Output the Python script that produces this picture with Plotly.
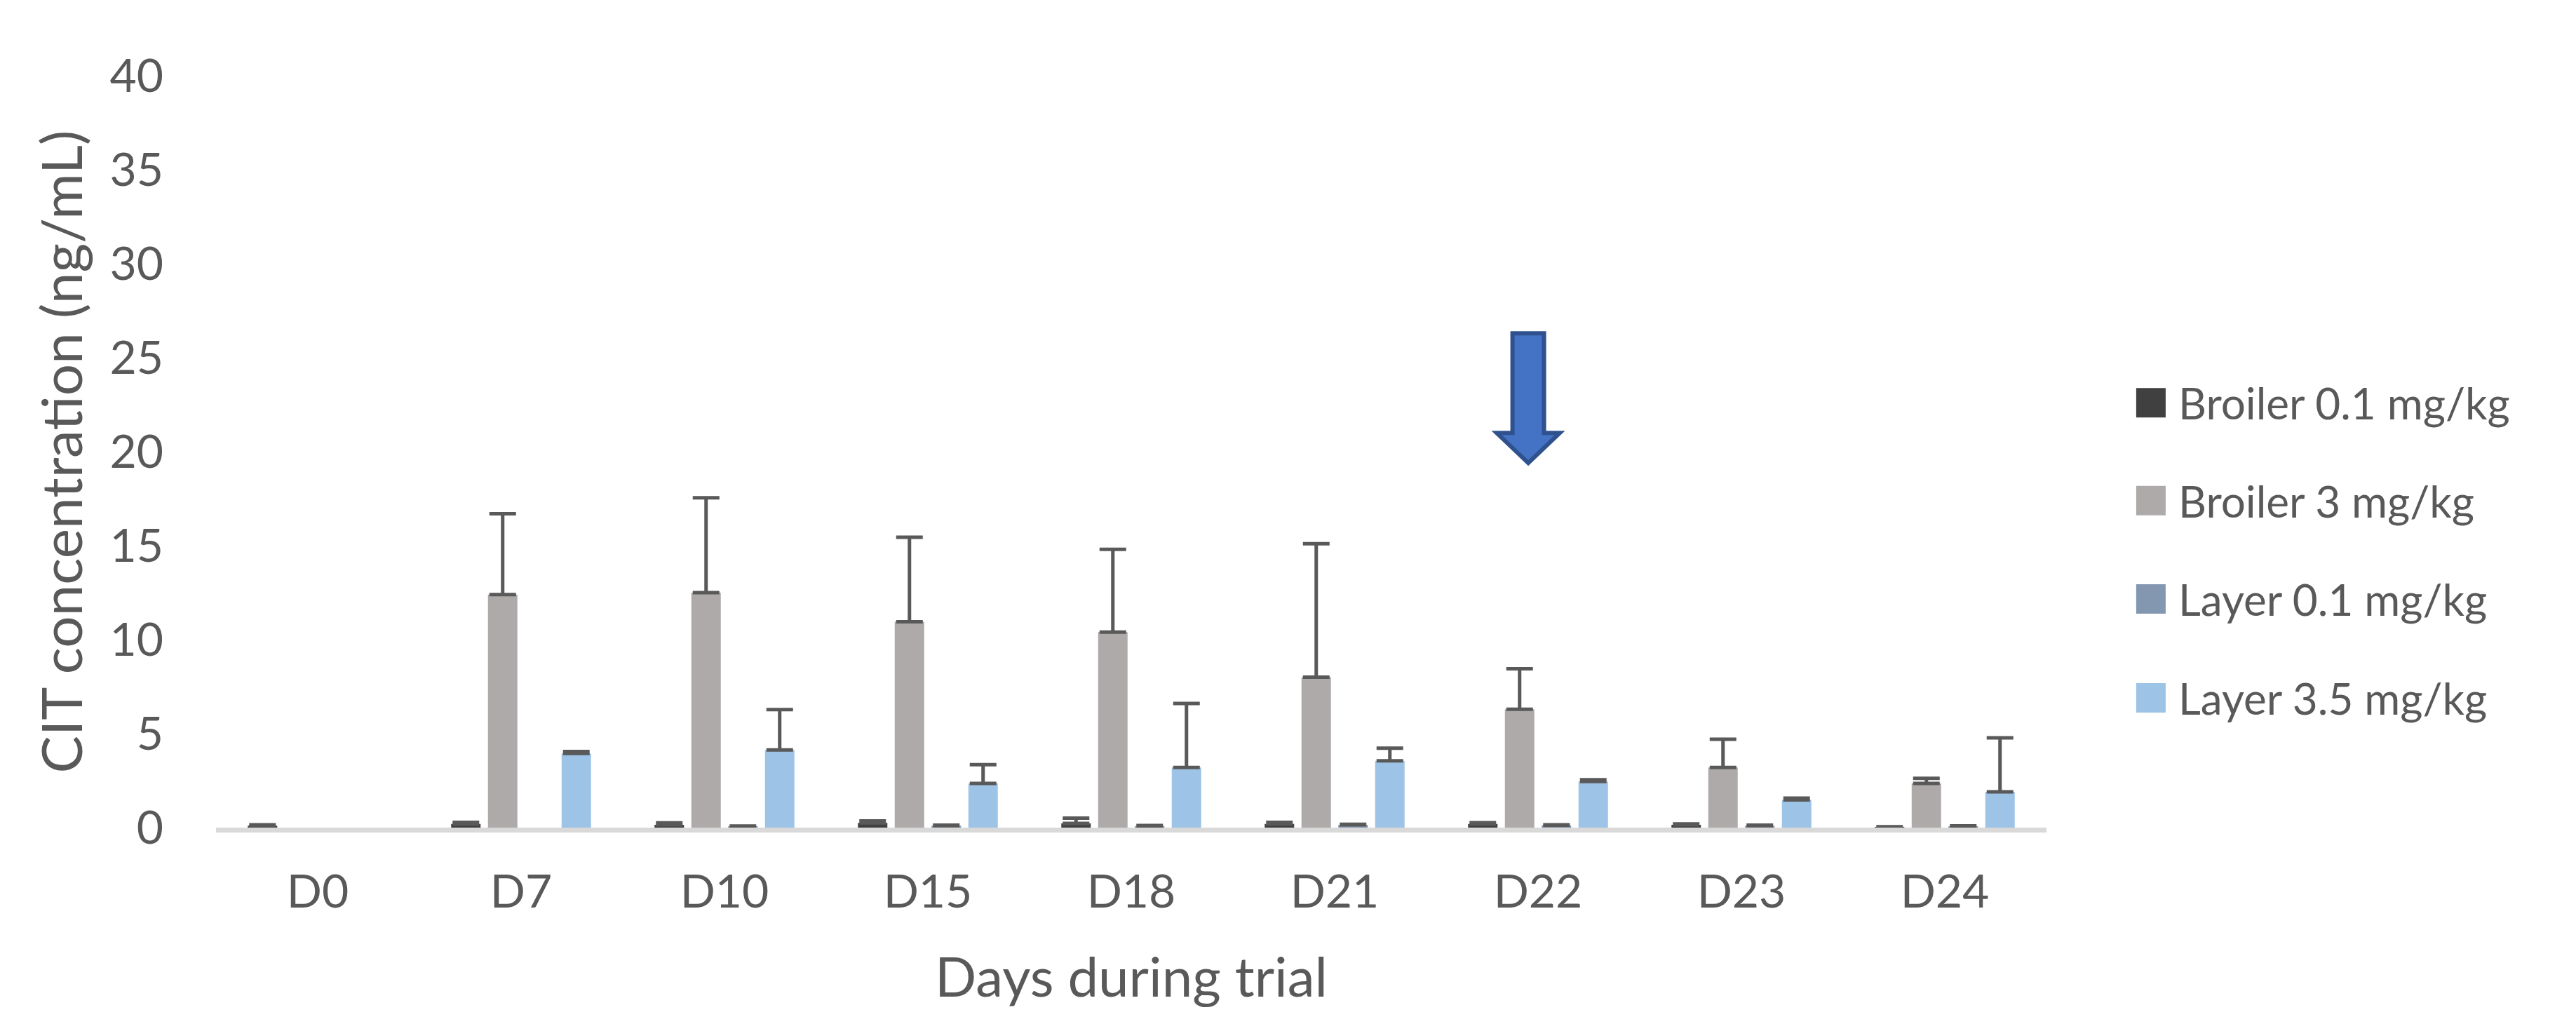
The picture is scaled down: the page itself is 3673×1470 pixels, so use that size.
import plotly.graph_objects as go

# ---- data ----
days = ["D0", "D7", "D10", "D15", "D18", "D21", "D22", "D23", "D24"]
series_names = ["Broiler 0.1 mg/kg", "Broiler 3 mg/kg", "Layer 0.1 mg/kg", "Layer 3.5 mg/kg"]

broiler_01 = [0.10, 0.20, 0.15, 0.25, 0.22, 0.20, 0.20, 0.15, 0.03]
broiler_01_err = [0.05, 0.08, 0.10, 0.10, 0.28, 0.08, 0.06, 0.05, 0.02]

broiler_3 = [None, 12.4, 12.5, 10.95, 10.4, 8.0, 6.3, 3.2, 2.35]
broiler_3_err = [None, 4.3, 5.05, 4.5, 4.4, 7.1, 2.15, 1.5, 0.27]

layer_01 = [None, None, 0.05, 0.10, 0.08, 0.15, 0.12, 0.10, 0.06]
layer_01_err = [None, None, 0.03, 0.03, 0.03, 0.03, 0.03, 0.03, 0.03]

layer_35 = [None, 3.95, 4.13, 2.35, 3.2, 3.55, 2.45, 1.47, 1.9]
layer_35_err = [None, 0.10, 2.15, 1.0, 3.4, 0.68, 0.10, 0.10, 2.88]

y_ticks = [0, 5, 10, 15, 20, 25, 30, 35, 40]

# ---- styles ----
colors = ["#404040", "#AEAAAA", "#8497B0", "#9DC3E6"]
err_color = "#595959"
text_color = "#595959"
FONT = "Lato"

values = [broiler_01, broiler_3, layer_01, layer_35]
errors = [broiler_01_err, broiler_3_err, layer_01_err, layer_35_err]

fig = go.Figure()
for name, vals, errs, col in zip(series_names, values, errors, colors):
    fig.add_trace(go.Bar(
        name=name, x=days, y=vals, marker_color=col, marker_line_width=0,
        error_y=dict(type="data", symmetric=False, array=errs,
                     arrayminus=[0 if e is not None else None for e in errs],
                     color=err_color, thickness=5, width=19),
        showlegend=False,
    ))

# manual legend (large square swatches like the original)
leg_y = [0.565, 0.435, 0.304, 0.1726]
half_h = 0.0196
for name, col, yy in zip(series_names, colors, leg_y):
    fig.add_shape(type="rect", xref="paper", yref="paper",
                  x0=1.0490, x1=1.0651, y0=yy - half_h, y1=yy + half_h,
                  fillcolor=col, line_width=0)
    fig.add_annotation(xref="paper", yref="paper", x=1.0712, y=yy,
                       text=name, showarrow=False, xanchor="left", yanchor="middle",
                       font=dict(family=FONT, size=62, color=text_color))

# block arrow above D22
ax_c = (5.952 + 0.5) / len(days)
sh = 22.5 / 2610
hh = 45 / 2610
y_top, y_head, y_tip = 26.3, 21.0, 19.4
path = (f"M{ax_c - sh},{y_top} L{ax_c + sh},{y_top} L{ax_c + sh},{y_head} "
        f"L{ax_c + hh},{y_head} L{ax_c},{y_tip} L{ax_c - hh},{y_head} "
        f"L{ax_c - sh},{y_head} Z")
fig.add_shape(type="path", xref="paper", yref="y", path=path,
              fillcolor="#4472C4", line=dict(color="#2F528F", width=6))

fig.update_layout(
    width=3673, height=1470,
    margin=dict(l=300, r=763, t=100, b=298),
    paper_bgcolor="white", plot_bgcolor="white",
    barmode="group", bargap=0.276, bargroupgap=0.2,
    font=dict(family=FONT, color=text_color),
    xaxis=dict(
        showline=True, linecolor="#D9D9D9", linewidth=7, showgrid=False,
        ticks="", tickfont=dict(family=FONT, size=66, color=text_color),
        ticklabelstandoff=28,
        title=dict(text="Days during trial", font=dict(family=FONT, size=78, color=text_color), standoff=62),
    ),
    yaxis=dict(
        range=[0, 40], tickvals=y_ticks, showgrid=False, zeroline=False, showline=False,
        ticks="", tickfont=dict(family=FONT, size=66, color=text_color),
        ticklabelstandoff=74,
        title=dict(text="CIT concentration (ng/mL)", font=dict(family=FONT, size=80, color=text_color), standoff=12),
    ),
)

fig.write_html("out.html")
